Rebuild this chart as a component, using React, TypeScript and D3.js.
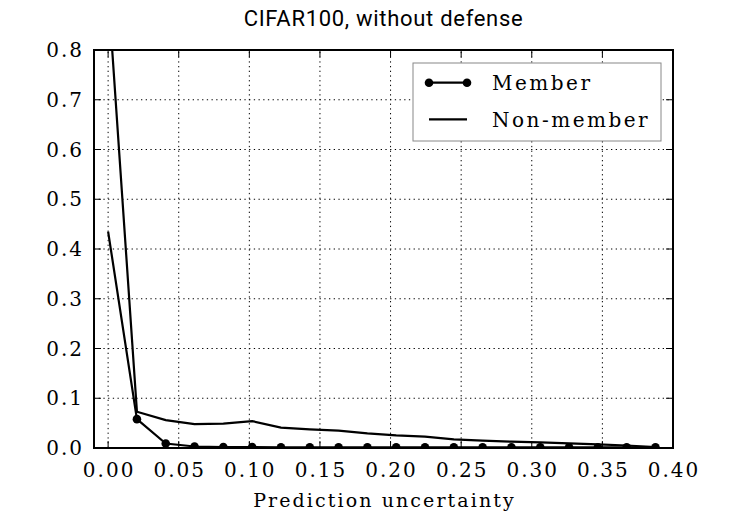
import * as d3 from 'd3';

const UNCERTAINTY = [
  0.0, 0.0204, 0.0408, 0.0612, 0.0816, 0.102, 0.1224, 0.1428, 0.1632, 0.1836,
  0.204, 0.2244, 0.2448, 0.2652, 0.2856, 0.306, 0.3264, 0.3468, 0.3672, 0.3876,
];
const MEMBER = [
  0.435, 0.058, 0.009, 0.003, 0.002, 0.002, 0.0015, 0.0015, 0.0015, 0.0015,
  0.0015, 0.0015, 0.0015, 0.0015, 0.0015, 0.0015, 0.0015, 0.0015, 0.0015, 0.0015,
];
const NON_MEMBER = [
  0.92, 0.073, 0.056, 0.048, 0.049, 0.054, 0.041, 0.0375, 0.035, 0.0295,
  0.0255, 0.023, 0.0175, 0.015, 0.0127, 0.0115, 0.0094, 0.0074, 0.005, 0.002,
];
const X_TICKS = [0, 0.05, 0.1, 0.15, 0.2, 0.25, 0.3, 0.35, 0.4];
const Y_TICKS = [0, 0.1, 0.2, 0.3, 0.4, 0.5, 0.6, 0.7, 0.8];

const W = 747;
const H = 514;
const M = { left: 94, right: 74, top: 50, bottom: 66 };
const SERIF = '"DejaVu Serif", serif';

export default function App() {
  const x = d3.scaleLinear().domain([-0.01, 0.4]).range([M.left, W - M.right]);
  const y = d3.scaleLinear().domain([0, 0.8]).range([H - M.bottom, M.top]);
  const [x0, x1] = x.range();
  const [y0, y1] = y.range();

  const line = d3.line<number>()
    .x((_, i) => x(UNCERTAINTY[i]))
    .y((d) => y(d));

  return (
    <svg width={W} height={H} style={{ position: 'absolute', left: 0, top: 0 }}>
      <defs>
        <clipPath id="plot">
          <rect x={x0} y={y1} width={x1 - x0} height={y0 - y1} />
        </clipPath>
      </defs>
      <rect width={W} height={H} fill="#fff" />

      {/* grid */}
      <g stroke="#000" strokeWidth={1} strokeDasharray="1.3,3.4">
        {X_TICKS.slice(0, -1).map((t) => (
          <line key={`gx${t}`} x1={x(t)} x2={x(t)} y1={y0} y2={y1} />
        ))}
        {Y_TICKS.slice(1, -1).map((t) => (
          <line key={`gy${t}`} x1={x0} x2={x1} y1={y(t)} y2={y(t)} />
        ))}
      </g>

      {/* ticks, inward on every side */}
      <g stroke="#000" strokeWidth={1}>
        {X_TICKS.map((t) => (
          <g key={`tx${t}`}>
            <line x1={x(t)} x2={x(t)} y1={y0} y2={y0 - 7} />
            <line x1={x(t)} x2={x(t)} y1={y1} y2={y1 + 7} />
          </g>
        ))}
        {Y_TICKS.map((t) => (
          <g key={`ty${t}`}>
            <line x1={x0} x2={x0 + 7} y1={y(t)} y2={y(t)} />
            <line x1={x1} x2={x1 - 7} y1={y(t)} y2={y(t)} />
          </g>
        ))}
      </g>

      {/* series */}
      <g clipPath="url(#plot)">
        <path d={line(NON_MEMBER) ?? ''} fill="none" stroke="#000" strokeWidth={2.2} />
        <path d={line(MEMBER) ?? ''} fill="none" stroke="#000" strokeWidth={2.2} />
        {MEMBER.slice(1).map((v, i) => (
          <circle key={i} cx={x(UNCERTAINTY[i + 1])} cy={y(v)} r={4.3} fill="#000" />
        ))}
      </g>

      {/* frame */}
      <rect x={x0} y={y1} width={x1 - x0} height={y0 - y1} fill="none" stroke="#000" strokeWidth={2} />

      {/* tick labels */}
      <g fontFamily={SERIF} fontSize={20} letterSpacing={2} fill="#000">
        {X_TICKS.map((t) => (
          <text key={`lx${t}`} x={x(t) + 1} y={y0 + 29} textAnchor="middle">
            {d3.format('.2f')(t)}
          </text>
        ))}
        {Y_TICKS.map((t) => (
          <text key={`ly${t}`} x={x0 - 10} y={y(t) + 7} textAnchor="end">
            {d3.format('.1f')(t)}
          </text>
        ))}
      </g>

      <text x={(x0 + x1) / 2 + 1} y={507} textAnchor="middle" fontFamily={SERIF} fontSize={19} letterSpacing={2.1}>
        Prediction uncertainty
      </text>

      <text x={(x0 + x1) / 2} y={26} textAnchor="middle" fontFamily="Roboto, sans-serif" fontSize={22} letterSpacing={0.7}>
        CIFAR100, without defense
      </text>

      {/* legend */}
      <g>
        <rect x={413} y={63} width={248} height={78} fill="#fff" stroke="#888" strokeWidth={1} />
        <line x1={429} x2={467} y1={82.7} y2={82.7} stroke="#000" strokeWidth={2.2} />
        <circle cx={429} cy={82.7} r={4.3} fill="#000" />
        <circle cx={467} cy={82.7} r={4.3} fill="#000" />
        <line x1={429} x2={467} y1={119.3} y2={119.3} stroke="#000" strokeWidth={2.2} />
        <g fontFamily={SERIF} fontSize={20} letterSpacing={2.5}>
          <text x={492} y={90}>Member</text>
          <text x={492} y={127}>Non-member</text>
        </g>
      </g>
    </svg>
  );
}
